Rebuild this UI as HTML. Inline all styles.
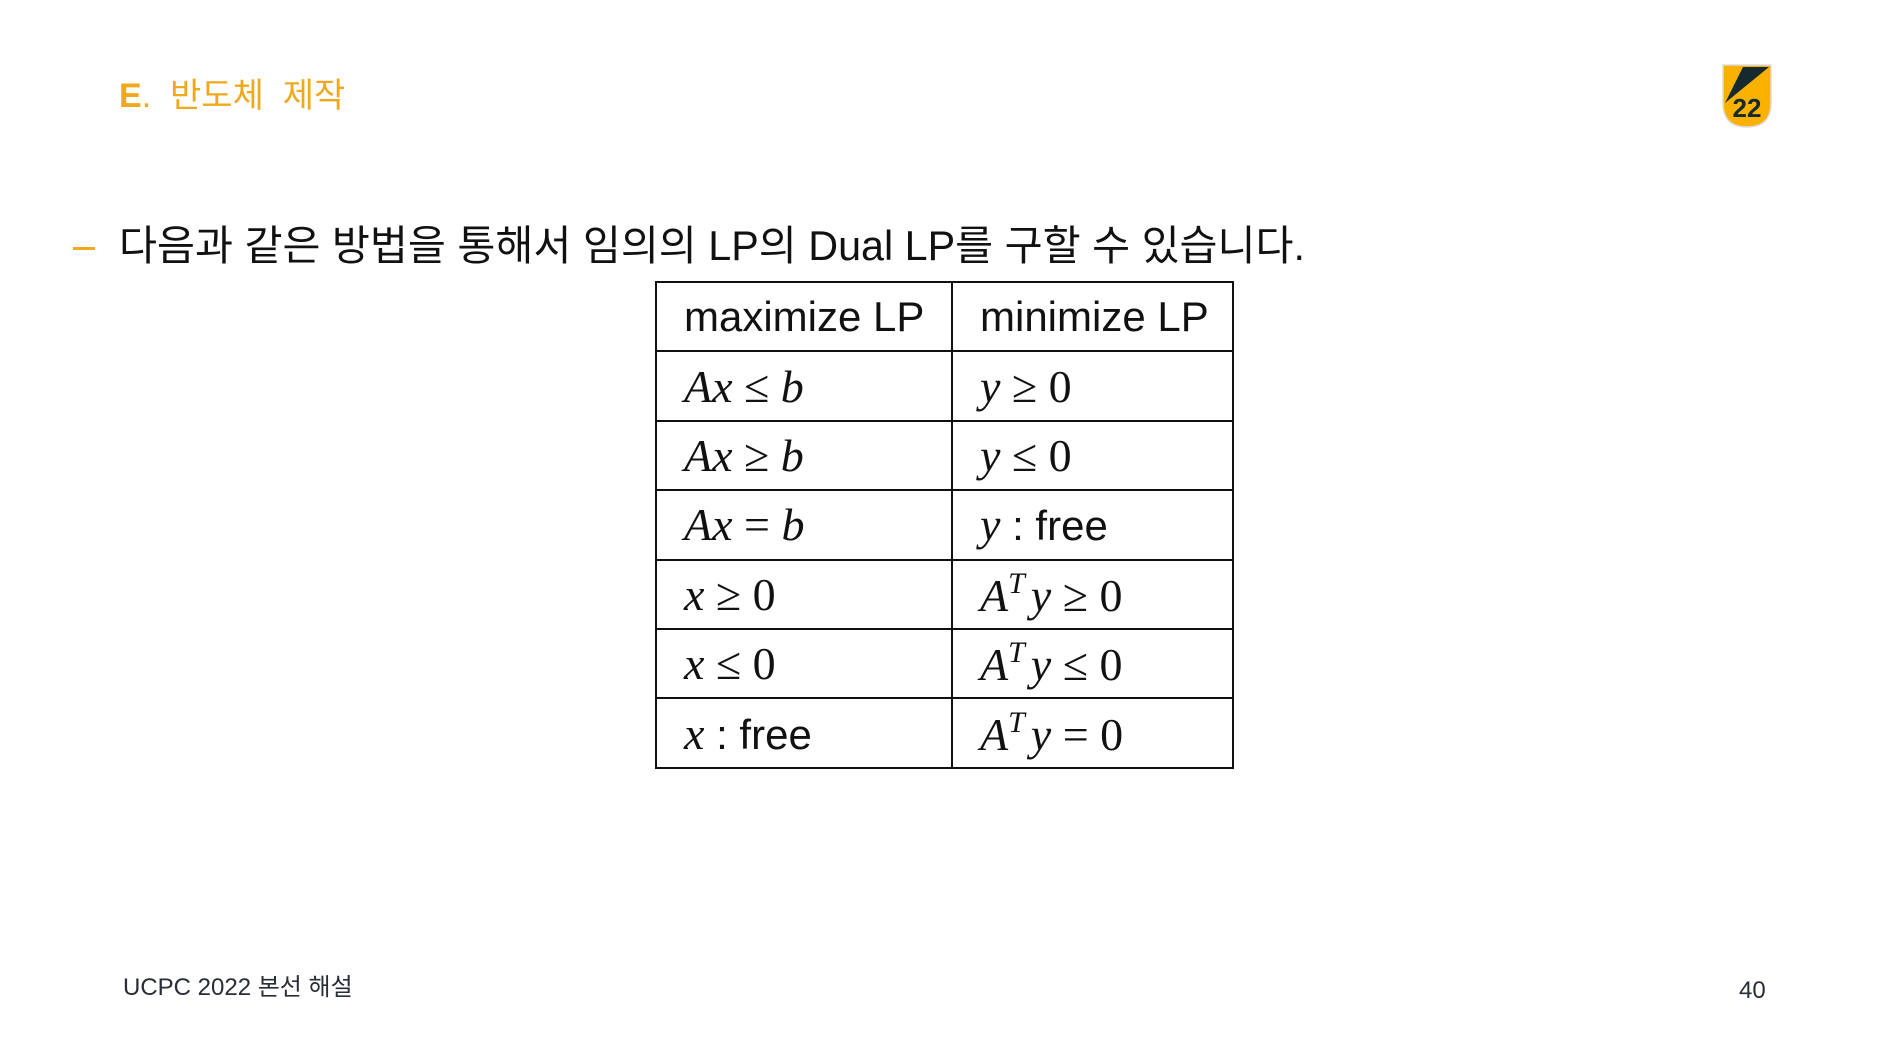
<!DOCTYPE html>
<html><head><meta charset="utf-8"><style>
body{margin:0;width:1890px;height:1063px;background:#fff;position:relative;overflow:hidden;font-family:"Liberation Sans","Noto Sans CJK KR",sans-serif;}
.abs{position:absolute;white-space:nowrap;}
table{position:absolute;left:655px;top:281px;border-collapse:collapse;}
td{border:2px solid #111;height:69.4px;padding:0 0 0 27px;font-size:42px;color:#111;vertical-align:middle;box-sizing:border-box;}
td.c1{width:296px;}td.c2{width:281px;}
.m{font-family:"Liberation Serif",serif;font-size:46px;}
.m i{font-style:italic;}
sup{font-size:30px;font-style:italic;vertical-align:18px;margin-right:6px;}
</style></head><body>
<div class="abs" style="left:119px;top:68px;font-size:34px;color:#f0a81c;"><b>E</b>.&nbsp; 반도체&nbsp; 제작</div>
<svg class="abs" style="left:1720px;top:63px" width="54" height="66" viewBox="0 0 52 66"><path d="M2,2 H50 V40 Q50,64 26,64 Q2,64 2,40 Z" fill="#fbb100" stroke="#ddd" stroke-width="1.5"/><path d="M4,40 L22,4 H48 Z" fill="#142a2f"/><text x="26" y="54" text-anchor="middle" font-family="Liberation Sans" font-weight="bold" font-size="26" fill="#142a2f">22</text></svg>
<div class="abs" style="left:73px;top:247px;width:22px;height:3px;background:#f0a81c;"></div>
<div class="abs" style="left:119px;top:212px;font-size:41.3px;color:#111;">다음과 같은 방법을 통해서 임의의 LP의 Dual LP를 구할 수 있습니다.</div>
<table>
<tr><td class="c1">maximize LP</td><td class="c2">minimize LP</td></tr>
<tr><td class="m"><i>Ax</i> ≤ <i>b</i></td><td class="m"><i>y</i> ≥ 0</td></tr>
<tr><td class="m"><i>Ax</i> ≥ <i>b</i></td><td class="m"><i>y</i> ≤ 0</td></tr>
<tr><td class="m"><i>Ax</i> = <i>b</i></td><td><span class="m"><i>y</i></span> : free</td></tr>
<tr><td class="m"><i>x</i> ≥ 0</td><td class="m"><i>A</i><sup>T</sup><i>y</i> ≥ 0</td></tr>
<tr><td class="m"><i>x</i> ≤ 0</td><td class="m"><i>A</i><sup>T</sup><i>y</i> ≤ 0</td></tr>
<tr><td><span class="m"><i>x</i></span> : free</td><td class="m"><i>A</i><sup>T</sup><i>y</i> = 0</td></tr>
</table>
<div class="abs" style="left:123px;top:967px;font-size:24px;color:#2a2d38;">UCPC 2022 본선 해설</div>
<div class="abs" style="left:1739px;top:977px;font-size:24px;color:#2a2d38;">40</div>
</body></html>
